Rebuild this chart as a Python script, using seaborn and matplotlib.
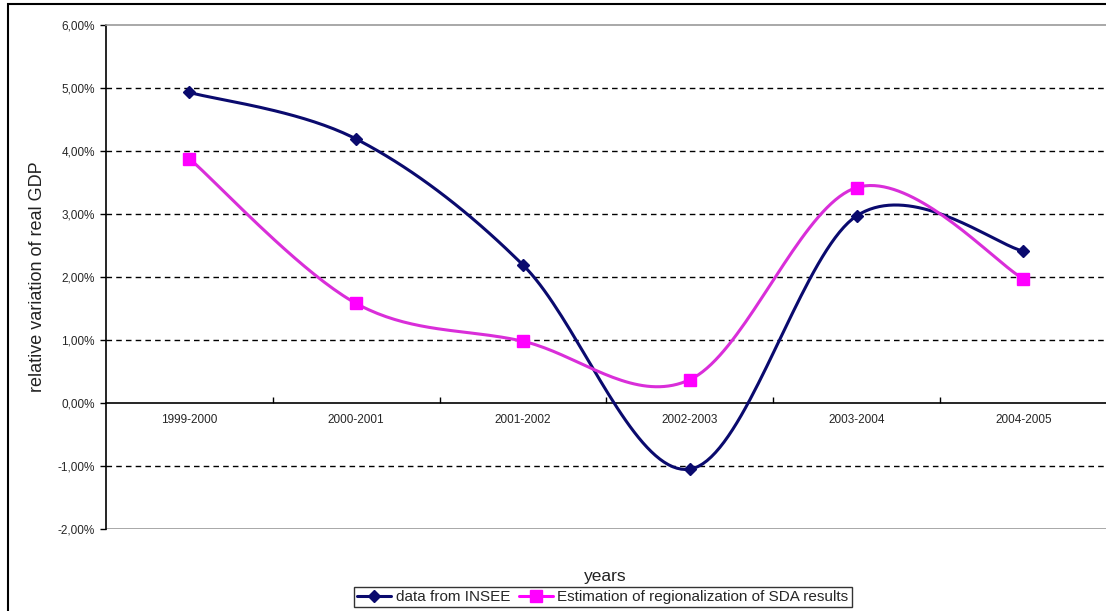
import numpy as np
import pandas as pd
import matplotlib
matplotlib.use("Agg")
import matplotlib.pyplot as plt
import matplotlib.ticker as mtick
from matplotlib.lines import Line2D
from matplotlib.patches import Rectangle
import seaborn as sns

# --- datos ---
periodos = ['1999-2000', '2000-2001', '2001-2002', '2002-2003', '2003-2004', '2004-2005']
insee = [0.0493, 0.0419, 0.0219, -0.0105, 0.0297, 0.0241]
sda = [0.0388, 0.0158, 0.0098, 0.0037, 0.0342, 0.0197]
serie_insee = 'data from INSEE'
serie_sda = 'Estimation of regionalization of SDA results'
y_ticks = [-0.02, -0.01, 0.0, 0.01, 0.02, 0.03, 0.04, 0.05, 0.06]

sns.set_theme(style='white')
plt.rcParams['font.family'] = ['Liberation Sans', 'DejaVu Sans']

x = np.arange(len(periodos))
df = pd.concat([
    pd.DataFrame({'x': x, 'valor': insee, 'serie': serie_insee}),
    pd.DataFrame({'x': x, 'valor': sda, 'serie': serie_sda}),
])


# curva suavizada tipo Excel (Bezier con tangentes de Catmull-Rom)
def suavizar(xs, ys, n=40):
    xs = np.asarray(xs, float)
    ys = np.asarray(ys, float)
    px = np.concatenate([[xs[0]], xs, [xs[-1]]])
    py = np.concatenate([[ys[0]], ys, [ys[-1]]])
    out_x, out_y = [], []
    t = np.linspace(0, 1, n)
    for i in range(1, len(xs)):
        p0x, p1x = px[i], px[i + 1]
        p0y, p1y = py[i], py[i + 1]
        c1x = p0x + (px[i + 1] - px[i - 1]) / 6
        c1y = p0y + (py[i + 1] - py[i - 1]) / 6
        c2x = p1x - (px[i + 2] - px[i]) / 6
        c2y = p1y - (py[i + 2] - py[i]) / 6
        bx = (1 - t) ** 3 * p0x + 3 * (1 - t) ** 2 * t * c1x + 3 * (1 - t) * t ** 2 * c2x + t ** 3 * p1x
        by = (1 - t) ** 3 * p0y + 3 * (1 - t) ** 2 * t * c1y + 3 * (1 - t) * t ** 2 * c2y + t ** 3 * p1y
        out_x.extend(bx)
        out_y.extend(by)
    return np.array(out_x), np.array(out_y)


fig = plt.figure(figsize=(11.06, 6.11), dpi=100)
ax = fig.add_axes([0.0958, 0.1342, 0.9050, 0.8249])

col_insee = '#0a0a6e'
col_sda_linea = '#d92ed9'
col_sda_marca = '#ff00ff'

# líneas de cuadrícula
for v in y_ticks:
    if v in (0.0, 0.06, -0.02):
        continue
    ax.axhline(v, color='black', lw=1, ls=(0, (4, 3)), zorder=1)
ax.axhline(-0.02, color='#999999', lw=1.2, zorder=1)

for serie, col in [(serie_insee, col_insee), (serie_sda, col_sda_linea)]:
    sub = df[df['serie'] == serie]
    sx, sy = suavizar(sub['x'], sub['valor'])
    sns.lineplot(x=sx, y=sy, ax=ax, color=col, lw=2.2, sort=False,
                 estimator=None, zorder=3)

d_ins = df[df['serie'] == serie_insee]
d_sda = df[df['serie'] == serie_sda]
ax.plot(d_ins['x'], d_ins['valor'], ls='none', marker='D', ms=6,
        color=col_insee, zorder=4)
ax.plot(d_sda['x'], d_sda['valor'], ls='none', marker='s', ms=8,
        color=col_sda_marca, zorder=4)

ax.set_xlim(-0.5, len(periodos) - 0.5)
ax.set_ylim(-0.02, 0.06)
ax.set_yticks(y_ticks)
ax.yaxis.set_major_formatter(mtick.FuncFormatter(lambda v, p: f"{v * 100:.2f}%".replace('.', ',')))
ax.tick_params(axis='y', which='major', direction='out', length=4, width=1,
               color='black', labelsize=8.5, pad=4, left=True)

# eje x en el cero
ax.spines['bottom'].set_position(('data', 0))
ax.spines['bottom'].set_color('black')
ax.spines['bottom'].set_linewidth(1.2)
ax.spines['left'].set_color('black')
ax.spines['left'].set_linewidth(1.2)
ax.spines['top'].set_color('#999999')
ax.spines['top'].set_linewidth(1.2)
ax.spines['right'].set_visible(False)

ax.set_xticks(np.arange(len(periodos) - 1) + 0.5)
ax.set_xticklabels([])
ax.set_xticks(x, minor=True)
ax.set_xticklabels(periodos, minor=True)
ax.tick_params(axis='x', which='major', direction='in', length=4, width=1,
               color='black', bottom=True)
ax.tick_params(axis='x', which='minor', length=0, labelsize=8.5, pad=8)

ax.set_xlabel('')
ax.set_ylabel('relative variation of real GDP', fontsize=13, color='#222222')
ax.yaxis.set_label_coords(-0.06, 0.5)
fig.text(605 / 1106, 1 - 577 / 611, 'years', ha='center', va='center',
         fontsize=12.5, color='#222222')

# leyenda
manejadores = [
    Line2D([], [], color=col_insee, lw=2.2, marker='D', ms=6),
    Line2D([], [], color=col_sda_marca, lw=2.2, marker='s', ms=8),
]
leg = fig.legend(manejadores, [serie_insee, serie_sda], loc='center',
                 bbox_to_anchor=(603 / 1106, 1 - 597 / 611), ncol=2,
                 fontsize=11, frameon=True, fancybox=False, handlelength=2.2,
                 handletextpad=0.3, columnspacing=0.6, borderpad=0.2)
leg.get_frame().set_edgecolor('black')
leg.get_frame().set_linewidth(1)

# marco exterior
fig.patches.append(Rectangle((8 / 1106, -0.01), 1.02, 1 - 4 / 611 + 0.01,
                             transform=fig.transFigure, fill=False,
                             edgecolor='black', lw=1.5))

fig.savefig('out.png', dpi=100)
